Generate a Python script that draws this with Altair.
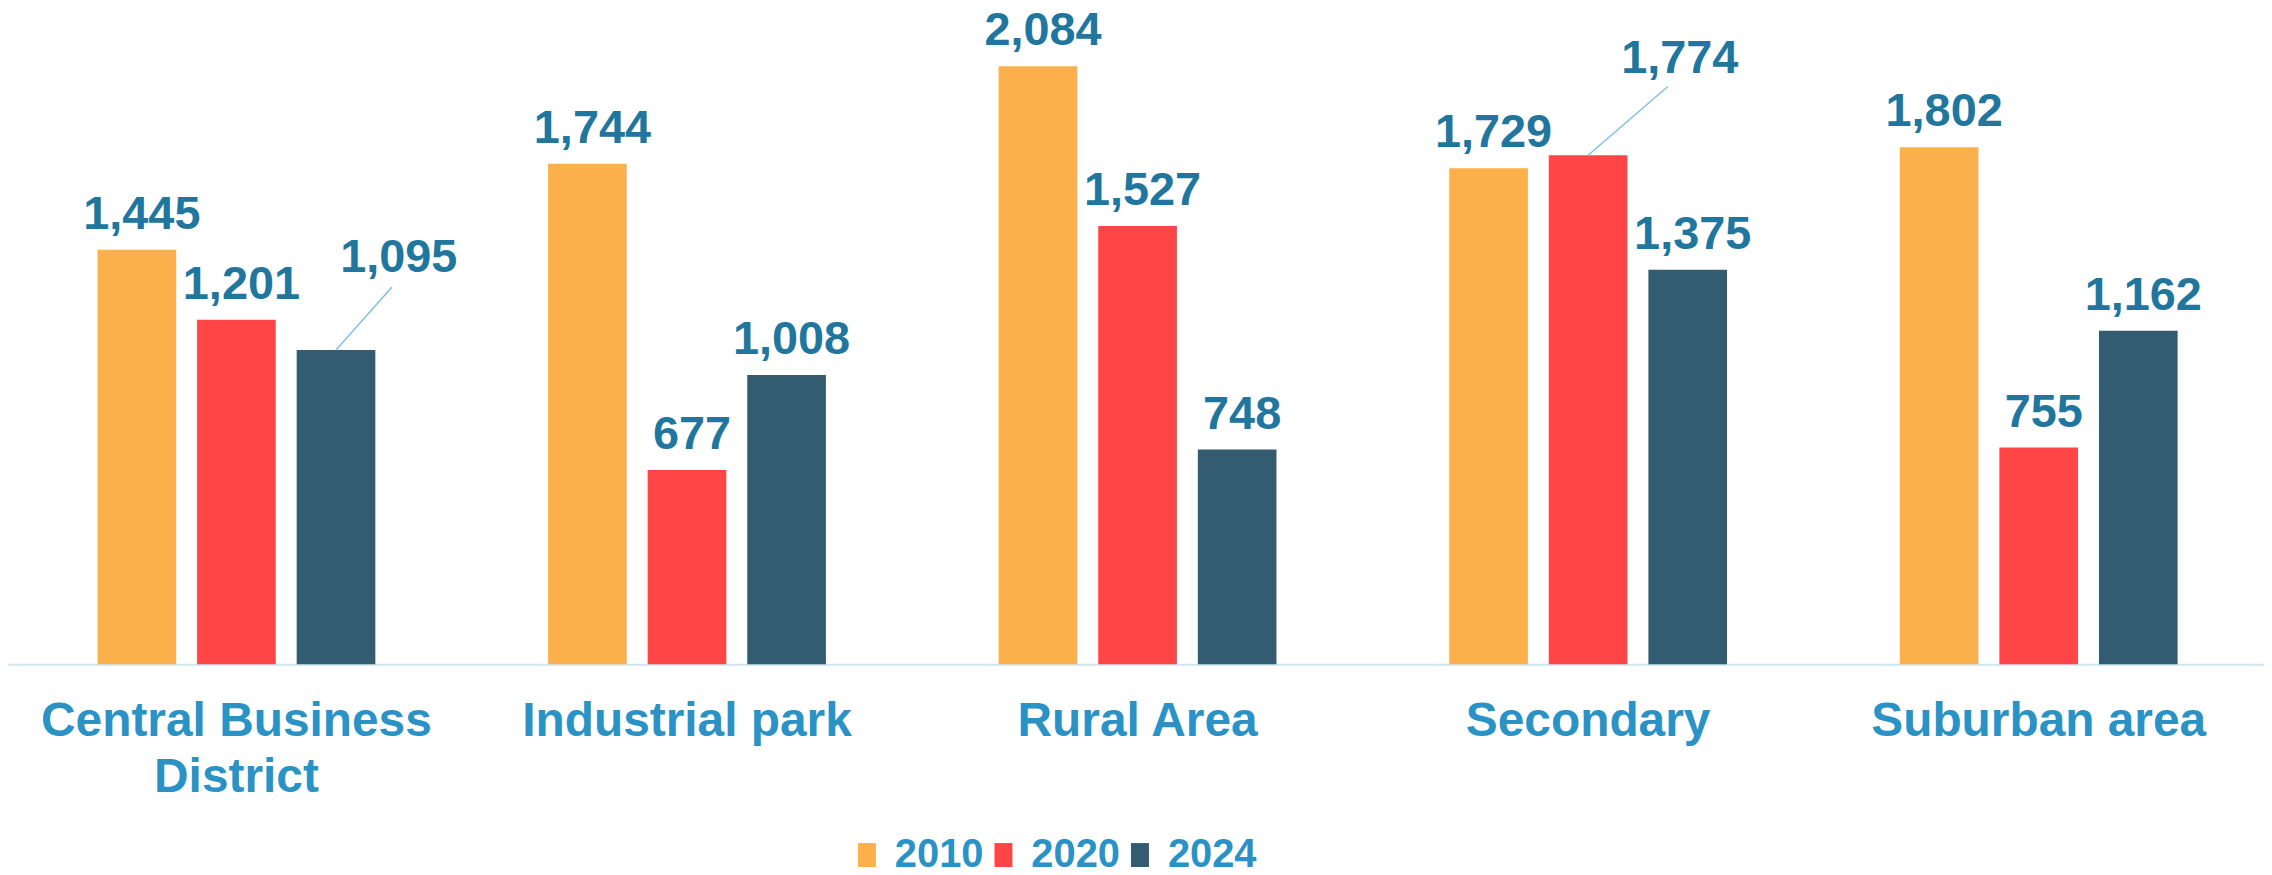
import altair as alt
import pandas as pd

categories = ["Central Business District", "Industrial park", "Rural Area", "Secondary", "Suburban area"]
years = ["2010", "2020", "2024"]
values_2010 = [1445, 1744, 2084, 1729, 1802]
values_2020 = [1201, 677, 1527, 1774, 755]
values_2024 = [1095, 1008, 748, 1375, 1162]

colors = ["#FBB04B", "#FF4545", "#345C70"]
label_color = "#21769D"
axis_label_color = "#2A92C4"

rows = []
for i, c in enumerate(categories):
    for yr, vals in zip(years, [values_2010, values_2020, values_2024]):
        rows.append({"category": c, "year": yr, "value": vals[i]})
df = pd.DataFrame(rows)

# layout parameters
PLOT_W = 2264
PLOT_H = 657
X_PAD_OUTER = 0.0035
IN_PAD_INNER = 0.21
IN_PAD_OUTER = 0.8675
x_step = PLOT_W / (len(categories) + 2 * X_PAD_OUTER)
inner_step = x_step / (len(years) - IN_PAD_INNER + 2 * IN_PAD_OUTER)

# labels moved out with a leader line: (category, year) and pixel offsets
callouts = [
    {"category": "Central Business District", "year": "2024", "dx": 63, "dy": -78, "lx": 56, "ly": -63},
    {"category": "Secondary", "year": "2020", "dx": 92, "dy": -83, "lx": 80, "ly": -69},
]


def cond(c):
    return f"(datum.category == '{c['category']}' && datum.year == '{c['year']}')"


not_callout = "!(" + " || ".join(cond(c) for c in callouts) + ")"

label_expr = ("datum.value == 'Central Business District' ? "
              "['Central Business', 'District'] : datum.value")

base = alt.Chart(df).encode(
    x=alt.X(
        "category:N",
        sort=categories,
        title=None,
        scale=alt.Scale(paddingInner=0, paddingOuter=X_PAD_OUTER, align=1),
        axis=alt.Axis(
            labelExpr=label_expr,
            labelAngle=0,
            labelFont="Liberation Sans",
            labelFontWeight="bold",
            labelFontSize=48,
            labelColor=axis_label_color,
            labelPadding=34,
            labelLineHeight=56,
            labelLimit=1000,
            labelBaseline="top",
            ticks=False,
            tickSize=0,
            domainColor="#CDE6F2",
            domainWidth=2,
            grid=False,
        ),
    ),
    xOffset=alt.XOffset("year:N", sort=years,
                        scale=alt.Scale(paddingInner=IN_PAD_INNER, paddingOuter=IN_PAD_OUTER)),
    y=alt.Y("value:Q", axis=None,
            scale=alt.Scale(domain=[0, 2282], nice=False, zero=True)),
)

bars = base.mark_bar().encode(
    color=alt.Color(
        "year:N",
        sort=years,
        scale=alt.Scale(domain=years, range=colors),
        legend=alt.Legend(
            title=None,
            orient="none",
            direction="horizontal",
            legendX=842,
            legendY=829,
            symbolType="M-0.72,-1L0.72,-1L0.72,1L-0.72,1Z",
            symbolSize=625,
            symbolStrokeWidth=0,
            symbolOpacity=1,
            labelFont="Liberation Sans",
            labelFontWeight="bold",
            labelFontSize=40,
            labelColor=axis_label_color,
            labelOffset=8,
            columnPadding=0,
            padding=0,
        ),
    )
)

text_style = dict(
    font="Liberation Sans",
    fontWeight="bold",
    fontSize=47,
    color=label_color,
    baseline="alphabetic",
    align="center",
)

labels = base.transform_filter(not_callout).mark_text(dx=5, dy=-21, **text_style).encode(
    text=alt.Text("value:Q", format=",")
)

layers = [bars, labels]
for c in callouts:
    sub = base.transform_filter(cond(c))
    # x2 does not follow the xOffset channel, so add the bar's offset within its group
    shift = (years.index(c["year"]) - (len(years) - 1) / 2) * inner_step
    leader = sub.mark_rule(color="#80C0E6", strokeWidth=1.5,
                           x2Offset=c["lx"] + shift, y2Offset=c["ly"]).encode(
        x2=alt.X2("category:N"),
        y2=alt.Y2("value:Q"),
    )
    txt = sub.mark_text(dx=c["dx"], dy=c["dy"], **text_style).encode(
        text=alt.Text("value:Q", format=",")
    )
    layers += [leader, txt]

chart = alt.layer(*layers).properties(
    width=PLOT_W,
    height=PLOT_H,
    autosize=alt.AutoSizeParams(type="none"),
    padding={"left": 0, "top": 0, "right": 0, "bottom": 202},
).configure_view(stroke=None)

chart.save("out.html", embed_options={"renderer": "svg", "actions": False})
